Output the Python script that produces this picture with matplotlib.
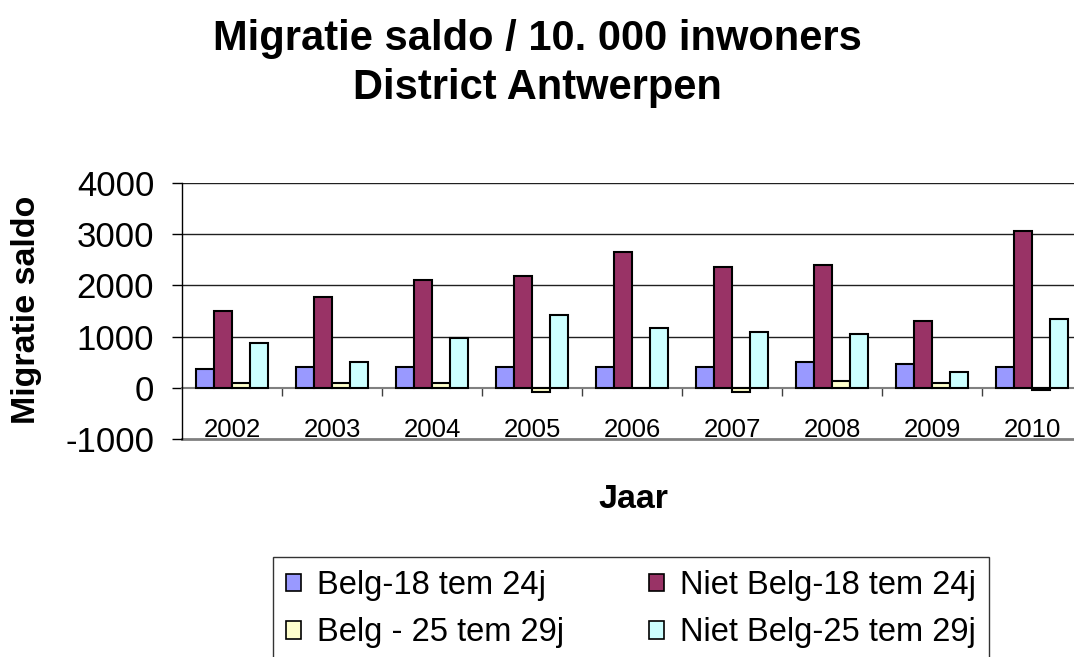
import matplotlib
matplotlib.use("Agg")
import matplotlib.pyplot as plt
import numpy as np
from matplotlib.patches import Patch

plt.rcParams['font.family'] = ['Liberation Sans', 'DejaVu Sans']
plt.rcParams['axes.unicode_minus'] = False

years = ["2002", "2003", "2004", "2005", "2006", "2007", "2008", "2009", "2010"]
belg_18_24 = [370, 416, 416, 416, 416, 416, 500, 468, 416]
niet_belg_18_24 = [1508, 1767, 2112, 2183, 2651, 2352, 2398, 1312, 3067]
belg_25_29 = [85, 85, 85, -90, 0, -85, 130, 85, -45]
niet_belg_25_29 = [884, 500, 968, 1429, 1176, 1091, 1053, 299, 1345]

series = [
    ("Belg-18 tem 24j", belg_18_24, "#9999FF"),
    ("Niet Belg-18 tem 24j", niet_belg_18_24, "#993366"),
    ("Belg - 25 tem 29j", belg_25_29, "#FFFFCC"),
    ("Niet Belg-25 tem 29j", niet_belg_25_29, "#CCFFFF"),
]

W, H = 1074, 657
fig = plt.figure(figsize=(W / 100, H / 100), dpi=100)
ax = fig.add_axes([182 / W, 1 - 439 / H, 900 / W, 256 / H])

x = np.arange(len(years))
bw = 0.18
offsets = [-1.5 * bw, -0.5 * bw, 0.5 * bw, 1.5 * bw]
for (name, vals, col), off in zip(series, offsets):
    ax.bar(x + off, vals, bw, color=col, edgecolor="black", linewidth=1.5, zorder=3)

ax.set_xlim(-0.5, len(years) - 0.5)
ax.set_ylim(-1000, 4000)
ax.set_yticks([-1000, 0, 1000, 2000, 3000, 4000])
ax.tick_params(axis="y", labelsize=25, length=7, width=1, pad=13)
for gy in [1000, 2000, 3000, 4000]:
    ax.axhline(gy, color="#202020", linewidth=1, zorder=1)
ax.axhline(-1000, color="#808080", linewidth=2, zorder=1, clip_on=False)

for s in ["top", "right"]:
    ax.spines[s].set_visible(False)
ax.spines["left"].set_linewidth(1)
ax.spines["bottom"].set_position(("data", 0))
ax.spines["bottom"].set_color("#808080")
ax.spines["bottom"].set_linewidth(1.5)
ax.spines["bottom"].set_zorder(2)

ax.set_xticks(x)
ax.set_xticklabels(years)
ax.set_xticks(x[:-1] + 0.5, minor=True)
ax.tick_params(axis="x", which="major", length=0, labelsize=18.5, pad=22)
ax.tick_params(axis="x", which="minor", length=6, width=1, color="#404040", direction="out")

fig.text(0.5, 1 - 50 / H, "Migratie saldo / 10. 000 inwoners", ha="center", va="baseline",
         fontsize=30, fontweight="bold")
fig.text(0.5, 1 - 99 / H, "District Antwerpen", ha="center", va="baseline",
         fontsize=30, fontweight="bold")
fig.text(27 / W, 1 - 310 / H, "Migratie saldo", rotation=90, ha="center", va="center",
         fontsize=24.5, fontweight="bold")
fig.text(633 / W, 1 - 500 / H, "Jaar", ha="center", va="center", fontsize=24.5, fontweight="bold")

handles = [Patch(facecolor=c, edgecolor="black", linewidth=1.2) for _, _, c in series]
labels = [n for n, _, _ in series]
# order so that ncol=2 fills rows: row1 = series 0,1 ; row2 = series 2,3
order = [0, 2, 1, 3]
leg = fig.legend([handles[i] for i in order], [labels[i] for i in order],
                 loc="upper left", bbox_to_anchor=(273 / W, 1 - 557 / H), ncol=2,
                 fontsize=23.5, frameon=True, fancybox=False, edgecolor="black",
                 handlelength=0.45, handleheight=0.45, handletextpad=0.5,
                 columnspacing=2.6, labelspacing=0.5, borderpad=0.4, borderaxespad=0)
leg.get_frame().set_linewidth(1)

fig.savefig("out.png", dpi=100)
